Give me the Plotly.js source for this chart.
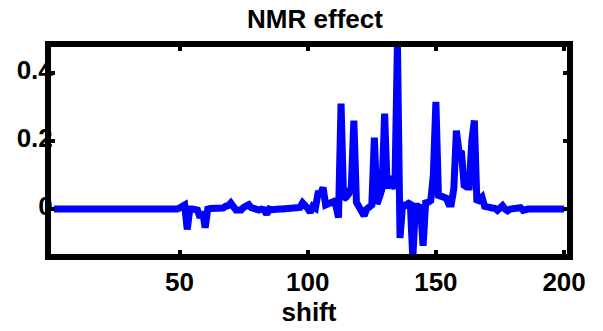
<!DOCTYPE html>
<html>
<head>
<meta charset="utf-8">
<script src="https://cdn.plot.ly/plotly-3.0.1.min.js"></script>
<style>html,body{margin:0;padding:0;background:#fff;}#chart{width:603px;height:331px;}</style>
</head>
<body>
<div id="chart"></div>
<script>
// shift index (x) and NMR effect (y)
const shift = [
  1,2,3,4,5,6,7,8,9,10,11,12,13,14,15,16,17,18,19,20,
  21,22,23,24,25,26,27,28,29,30,31,32,33,34,35,36,37,38,39,40,
  41,42,43,44,45,46,47,48,49,50,51,52,53,54,55,56,57,58,59,60,
  61,62,63,64,65,66,67,68,69,70,71,72,73,74,75,76,77,78,79,80,
  81,82,83,84,85,86,87,88,89,90,91,92,93,94,95,96,97,98,99,100,
  101,102,103,104,105,106,107,108,109,110,111,112,113,114,115,116,117,118,119,120,
  121,122,123,124,125,126,127,128,129,130,131,132,133,134,135,136,137,138,139,140,
  141,142,143,144,145,146,147,148,149,150,151,152,153,154,155,156,157,158,159,160,
  161,162,163,164,165,166,167,168,169,170,171,172,173,174,175,176,177,178,179,180,
  181,182,183,184,185,186,187,188,189,190,191,192,193,194,195,196,197,198,199,200
];
const effect = [
  // 1-20
  0,0,0,0,0,0,0,0,0,0,0,0,0,0,0,0,0,0,0,0,
  // 21-40
  -0.005,0,0,0,0,0,0,-0.005,0,0,0,0,0,0,0,0,-0.005,0,0,0,
  // 41-60
  0,0,0,0,0,0,-0.005,0,0,0.003,0.01,0.012,-0.06,0,0,0,-0.003,-0.025,-0.008,-0.055,
  // 61-80
  0,0.002,0.002,0.002,0.002,0.002,0.003,0.008,0.01,0.018,0.005,-0.003,-0.003,-0.003,0.005,0.012,0.013,0.004,0,0,
  // 81-100
  -0.003,0,-0.002,-0.015,0,-0.002,0,0,0,0,0,0,0,0,0,0,0.005,0.018,0.012,0.002,
  // 101-120
  -0.01,0.008,0.003,0.045,0.045,0.063,0.012,0.015,0.022,0.022,0.01,-0.025,0.31,0.03,0.035,0.045,0.065,0.26,0.02,0.005,
  // 121-140
  -0.005,-0.02,0,0.01,0.012,0.21,0.015,0.035,0.06,0.28,0.06,0.095,0.078,0.06,0.49,-0.085,0.012,0.01,0.015,0.02,
  // 141-160
  -0.145,0.008,0.008,0.004,-0.108,0.018,0.02,0.025,0.1,0.315,0.04,0.035,0.035,0.032,0.015,0.015,0.06,0.23,0.17,0.165,
  // 161-180
  0.07,0.065,0.065,0.2,0.26,0.02,0.025,0.035,0.008,0.005,0.004,0.003,0.002,-0.004,0.003,0.01,0,-0.005,0,0,
  // 181-200
  0,0.001,0.004,-0.004,0,0,0,0,0,0,0,0,0,0,0,0,0,0,0,0
];
const xTickVals = [50, 100, 150, 200];
const xTickText = ['50', '100', '150', '200'];
const yTickVals = [0, 0.2, 0.4];
const yTickText = ['0', '0.2', '0.4'];

const W = 603, H = 331;
const L = 51, R = 567, T = 47, B = 254;   // inner plot edges (px)
const ppuX = 522 / 199;                   // border centre 48 -> x=1, 570 -> x=200
const xRange = [1 - 3 / ppuX, 200 + 3 / ppuX];
const yRange = [-0.132, 0.476];

const fontFam = 'Liberation Sans, Arial, Helvetica, sans-serif';
const tf = {family: fontFam, size: 26, weight: 'bold', color: '#000'};

const trace = {
  x: shift, y: effect, type: 'scatter', mode: 'lines',
  line: {color: '#0000ff', width: 7, shape: 'linear'},
  hoverinfo: 'skip'
};

const layout = {
  width: W, height: H,
  margin: {l: L, r: W - R, t: T, b: H - B, pad: 0},
  paper_bgcolor: '#ffffff', plot_bgcolor: '#ffffff',
  showlegend: false,
  title: {
    text: 'NMR effect', font: tf,
    xref: 'paper', x: 0.5 + 6 / (R - L), xanchor: 'center',
    yref: 'container', y: 1 - 19 / H, yanchor: 'middle'
  },
  xaxis: {
    range: xRange, showgrid: false, zeroline: false,
    showline: true, linecolor: '#000', linewidth: 6, mirror: 'ticks',
    ticks: 'inside', ticklen: 4, tickwidth: 4, tickcolor: '#000',
    tickmode: 'array', tickvals: xTickVals, ticktext: xTickText,
    tickfont: tf,
    title: {text: 'shift', standoff: 5, font: tf}
  },
  yaxis: {
    range: yRange, showgrid: false, zeroline: false,
    showline: true, linecolor: '#000', linewidth: 6, mirror: 'ticks',
    ticks: 'inside', ticklen: 4, tickwidth: 4, tickcolor: '#000',
    tickmode: 'array', tickvals: yTickVals, ticktext: yTickText,
    tickfont: tf,
    ticklabelstandoff: -13,
    ticklabelshift: -3
  }
};

Plotly.newPlot('chart', [trace], layout, {staticPlot: true, displayModeBar: false});
</script>
</body>
</html>
